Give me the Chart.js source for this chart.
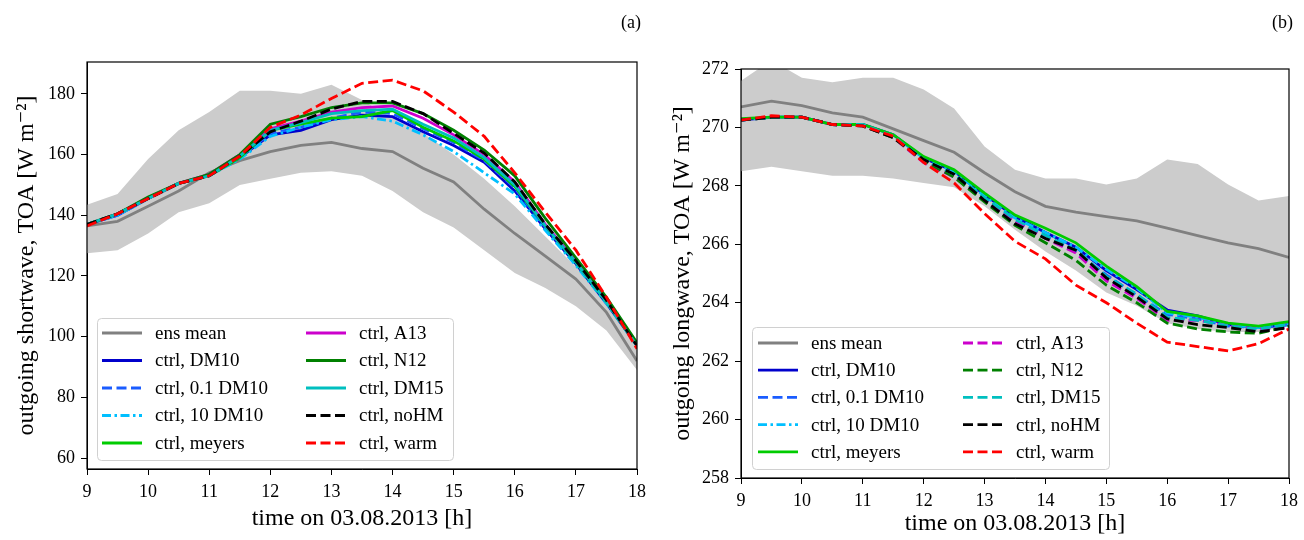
<!DOCTYPE html>
<html>
<head>
<meta charset="utf-8">
<script src="https://cdn.jsdelivr.net/npm/chart.js@4"></script>
<style>
  html, body { margin: 0; padding: 0; background: #fff; }
  #wrap { position: relative; width: 1304px; height: 540px; }
  .panel { position: absolute; top: 0; width: 652px; height: 540px; }
</style>
</head>
<body>
<div id="wrap">
  <div class="panel" style="left:0"><canvas id="chartA"></canvas></div>
  <div class="panel" style="left:652px"><canvas id="chartB"></canvas></div>
</div>
<script>
// time axis, every half hour
const hours = [9, 9.5, 10, 10.5, 11, 11.5, 12, 12.5, 13, 13.5, 14, 14.5, 15, 15.5, 16, 16.5, 17, 17.5, 18];
const xTicks = [9, 10, 11, 12, 13, 14, 15, 16, 17, 18];

const seriesLabels = ['ens mean', 'ctrl, DM10', 'ctrl, 0.1 DM10', 'ctrl, 10 DM10', 'ctrl, meyers',
                      'ctrl, A13', 'ctrl, N12', 'ctrl, DM15', 'ctrl, noHM', 'ctrl, warm'];

// (a) outgoing shortwave
const yTicksA = [60, 80, 100, 120, 140, 160, 180];
const swBandLo  = [127.5, 128.5, 134, 141, 144, 150, 152, 154, 154.5, 153, 148, 141, 136, 128.5, 121, 116, 110, 102, 89];
const swBandHi  = [143.5, 147, 158.5, 168, 174, 181, 181, 180, 183, 178, 172, 167, 160, 152, 143, 133, 123, 112, 97];
const swEnsMean = [136.5, 138, 143, 148, 154, 158, 161, 163, 164, 162, 161, 155.5, 151, 142, 134, 126.5, 119, 108, 92];
const swDM10    = [137, 140, 145.5, 150.5, 153, 159, 166.5, 168, 171.5, 173, 172.5, 167.5, 163, 157.5, 148, 135.5, 124, 111, 97];
const swDM10lo  = [137, 140, 145.5, 150.5, 153, 159, 167, 169, 172, 174, 173.5, 168.5, 164, 158, 149, 136, 124.5, 111.5, 97];
const swDM10hi  = [137, 140, 145.5, 150.5, 153, 158.5, 166, 169, 171.5, 172.5, 171, 166.5, 161, 154, 147, 135, 123.5, 111, 97];
const swMeyers  = [137, 140.5, 145.5, 150.5, 153, 159, 168, 170, 172, 172.5, 174.5, 169, 164.5, 158.5, 149.5, 136.5, 124.5, 111.5, 97];
const swA13     = [137, 140.5, 145.5, 150.5, 153.5, 160, 168.5, 171, 174, 175.5, 176, 172, 166.5, 160, 151, 137, 125, 112, 97];
const swN12     = [137, 140.5, 146, 150.5, 153.5, 160, 170, 172.5, 175.5, 177, 177, 173.5, 168, 161.5, 153, 139, 126, 113, 98];
const swDM15    = [137, 140.5, 145.5, 150.5, 153, 159.5, 168, 170.5, 173.5, 174.5, 175, 170, 165.5, 159, 150, 136.5, 124.5, 111.5, 97];
const swNoHM    = [137, 140.5, 145.5, 150.5, 153, 159.5, 167.5, 171, 175, 177.5, 177.5, 173.5, 167, 160.5, 151, 137, 125, 112, 97];
const swWarm    = [136.5, 140.5, 145.5, 150.5, 153, 159.5, 169, 173, 178.5, 183.5, 184.5, 181, 174, 166, 154, 141, 128.5, 113, 96];

// (b) outgoing longwave
const yTicksB = [258, 260, 262, 264, 266, 268, 270, 272];
const lwBandLo  = [268.5, 268.65, 268.5, 268.35, 268.35, 268.25, 268.1, 267.95, 267.3, 266.5, 265.75, 265.1, 264.35, 263.9, 263.3, 263.1, 263.0, 263.0, 263.2];
const lwBandHi  = [271.6, 272.3, 271.7, 271.55, 271.7, 271.7, 271.3, 270.65, 269.35, 268.55, 268.25, 268.25, 268.05, 268.25, 268.9, 268.75, 268.05, 267.5, 267.65];
const lwEnsMean = [270.7, 270.9, 270.75, 270.5, 270.35, 269.95, 269.55, 269.15, 268.45, 267.8, 267.3, 267.1, 266.95, 266.8, 266.55, 266.3, 266.05, 265.85, 265.55];
const lwDM10    = [270.25, 270.35, 270.35, 270.1, 270.1, 269.75, 268.95, 268.5, 267.7, 266.95, 266.4, 265.9, 265.1, 264.45, 263.75, 263.55, 263.25, 263.15, 263.25];
const lwDM10lo  = [270.25, 270.35, 270.35, 270.1, 270.05, 269.7, 268.9, 268.4, 267.6, 266.85, 266.3, 265.75, 264.95, 264.25, 263.6, 263.45, 263.2, 263.15, 263.25];
const lwDM10hi  = [270.25, 270.35, 270.35, 270.1, 270.1, 269.75, 268.95, 268.5, 267.65, 266.9, 266.4, 265.9, 265.15, 264.5, 263.65, 263.5, 263.25, 263.15, 263.25];
const lwMeyers  = [270.3, 270.35, 270.35, 270.1, 270.1, 269.75, 269.0, 268.55, 267.75, 267.0, 266.55, 266.05, 265.25, 264.55, 263.7, 263.55, 263.3, 263.2, 263.35];
const lwA13     = [270.25, 270.35, 270.35, 270.1, 270.05, 269.65, 268.8, 268.3, 267.5, 266.8, 266.2, 265.7, 264.75, 264.15, 263.4, 263.4, 263.2, 263.1, 263.15];
const lwN12     = [270.25, 270.35, 270.35, 270.1, 270.05, 269.65, 268.85, 268.3, 267.45, 266.65, 266.05, 265.45, 264.6, 264.0, 263.3, 263.1, 263.0, 262.95, 263.2];
const lwDM15    = [270.25, 270.35, 270.35, 270.1, 270.1, 269.7, 268.9, 268.4, 267.6, 266.85, 266.3, 265.8, 264.9, 264.3, 263.5, 263.4, 263.2, 263.1, 263.25];
const lwNoHM    = [270.25, 270.35, 270.35, 270.1, 270.05, 269.65, 268.9, 268.4, 267.5, 266.7, 266.2, 265.8, 264.85, 264.2, 263.45, 263.25, 263.15, 263.0, 263.15];
const lwWarm    = [270.25, 270.4, 270.35, 270.1, 270.05, 269.7, 268.8, 268.1, 267.05, 266.1, 265.5, 264.6, 264.0, 263.3, 262.65, 262.5, 262.35, 262.6, 263.1];

// line styles (same order as seriesLabels)
const DASH = [10, 4.5];
const DASHDOT = [9, 3.5, 2.5, 3.5];
const colors = ['#808080', '#0000cc', '#1a5cff', '#00bfff', '#00cc00', '#cc00cc', '#008000', '#00bfbf', '#000000', '#ff0000'];
const dashesA = [[], [], DASH, DASHDOT, [], [], [], [], DASH, DASH];
const dashesB = [[], [], DASH, DASHDOT, [], DASH, DASH, DASH, DASH, DASH];

const FONT = "'Liberation Serif', 'DejaVu Serif', serif";

function pts(arr) {
  return hours.map((h, i) => ({ x: h, y: arr[i] }));
}

function buildSets(bandLo, bandHi, lines, dashes) {
  const sets = [
    { label: 'bandHi', isBand: true, data: pts(bandHi), borderWidth: 0, pointRadius: 0,
      backgroundColor: '#cccccc', fill: '+1', order: 100 },
    { label: 'bandLo', isBand: true, data: pts(bandLo), borderWidth: 0, pointRadius: 0,
      backgroundColor: '#cccccc', fill: false, order: 99 }
  ];
  lines.forEach((arr, i) => {
    sets.push({
      label: seriesLabels[i],
      data: pts(arr),
      borderColor: colors[i],
      borderWidth: 2.8,
      borderDash: dashes[i],
      pointRadius: 0,
      fill: false,
      tension: 0,
      order: i === 0 ? 50 : 20 - i
    });
  });
  return sets;
}

// legend box drawn inside the plot, two columns
const boxLegend = {
  id: 'boxLegend',
  afterDraw(chart, args, o) {
    const ctx = chart.ctx, a = chart.chartArea;
    const x0 = a.left + o.dx, y1 = a.bottom - o.dy, y0 = y1 - o.h;
    ctx.save();
    ctx.beginPath();
    ctx.roundRect(x0 + 0.5, y0 + 0.5, o.w, o.h, 4);
    ctx.fillStyle = 'rgba(255,255,255,0.8)';
    ctx.fill();
    ctx.strokeStyle = '#d0d0d0';
    ctx.lineWidth = 1;
    ctx.stroke();
    const items = chart.data.datasets.filter(d => !d.isBand);
    items.forEach((d, i) => {
      const col = Math.floor(i / 5), row = i % 5;
      const sx = x0 + o.sx + col * o.colW;
      const sy = y0 + o.row0 + row * o.rowH;
      ctx.setLineDash(d.borderDash);
      ctx.strokeStyle = d.borderColor;
      ctx.lineWidth = d.borderWidth;
      ctx.beginPath();
      ctx.moveTo(sx, sy);
      ctx.lineTo(sx + 40, sy);
      ctx.stroke();
      ctx.setLineDash([]);
      ctx.fillStyle = '#000';
      ctx.font = '19px ' + FONT;
      ctx.textBaseline = 'middle';
      ctx.textAlign = 'left';
      ctx.fillText(d.label, sx + 53, sy + 1);
    });
    ctx.restore();
  }
};

// frame round the plot and the (a)/(b) tag
const frame = {
  id: 'frame',
  afterDraw(chart, args, o) {
    const ctx = chart.ctx, a = chart.chartArea;
    ctx.save();
    ctx.strokeStyle = '#000';
    ctx.lineWidth = 1.2;
    ctx.strokeRect(a.left, a.top, a.right - a.left, a.bottom - a.top);
    ctx.fillStyle = '#000';
    ctx.font = '18px ' + FONT;
    ctx.textAlign = 'right';
    ctx.textBaseline = 'middle';
    ctx.fillText(o.tag, a.right + 4, 23);
    ctx.restore();
  }
};

function makeChart(id, cfg) {
  return new Chart(document.getElementById(id).getContext('2d'), {
    type: 'line',
    data: { datasets: cfg.sets },
    plugins: [boxLegend, frame],
    options: {
      responsive: true,
      maintainAspectRatio: false,
      animation: false,
      layout: { padding: { left: 0, top: cfg.top, right: cfg.right, bottom: 0 } },
      plugins: {
        legend: { display: false },
        tooltip: { enabled: false },
        boxLegend: cfg.legend,
        frame: { tag: cfg.tag }
      },
      scales: {
        x: {
          type: 'linear', min: 9, max: 18,
          afterBuildTicks: s => { s.ticks = xTicks.map(v => ({ value: v })); },
          afterFit: s => { s.height = cfg.xH; },
          grid: { drawOnChartArea: false, tickLength: 6, tickColor: '#000' },
          border: { color: '#000', width: 1 },
          ticks: { color: '#000', font: { family: FONT, size: 18 }, padding: 6, maxRotation: 0 },
          title: { display: true, text: 'time on 03.08.2013 [h]', color: '#000',
                   font: { family: FONT, size: 24 }, padding: { top: 0, bottom: cfg.xTitlePad } }
        },
        y: {
          type: 'linear', min: cfg.yMin, max: cfg.yMax,
          afterBuildTicks: s => { s.ticks = cfg.yTicks.map(v => ({ value: v })); },
          afterFit: s => { s.width = cfg.yW; },
          grid: { drawOnChartArea: false, tickLength: 6, tickColor: '#000' },
          border: { color: '#000', width: 1 },
          ticks: { color: '#000', font: { family: FONT, size: 18 }, padding: 6 },
          title: { display: true, text: cfg.yTitle, color: '#000',
                   font: { family: FONT, size: 24 }, padding: { top: cfg.yTitlePad, bottom: 0 } }
        }
      }
    }
  });
}

makeChart('chartA', {
  sets: buildSets(swBandLo, swBandHi,
    [swEnsMean, swDM10, swDM10lo, swDM10hi, swMeyers, swA13, swN12, swDM15, swNoHM, swWarm], dashesA),
  top: 62, right: 14, xH: 71, yW: 87, xTitlePad: 7, yTitlePad: 12,
  yMin: 56.4, yMax: 190.5, yTicks: yTicksA,
  yTitle: 'outgoing shortwave, TOA [W m\u207B\u00B2]',
  tag: '(a)',
  legend: { dx: 10, dy: 9, w: 356, h: 142, sx: 5, colW: 204, row0: 15, rowH: 27.5 }
});

makeChart('chartB', {
  sets: buildSets(lwBandLo, lwBandHi,
    [lwEnsMean, lwDM10, lwDM10lo, lwDM10hi, lwMeyers, lwA13, lwN12, lwDM15, lwNoHM, lwWarm], dashesB),
  top: 69, right: 12, xH: 62, yW: 89, xTitlePad: 2, yTitlePad: 16,
  yMin: 258, yMax: 272, yTicks: yTicksB,
  yTitle: 'outgoing longwave, TOA [W m\u207B\u00B2]',
  tag: '(b)',
  legend: { dx: 11, dy: 9, w: 357, h: 142, sx: 6, colW: 205, row0: 16, rowH: 27.2 }
});
</script>
</body>
</html>
